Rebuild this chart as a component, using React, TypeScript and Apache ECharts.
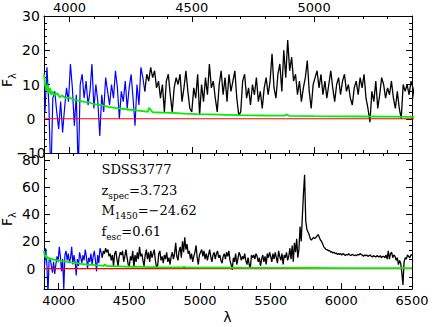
import React, { useEffect, useRef } from 'react';
import * as echarts from 'echarts';

// Spectrum sampling (wavelength in Angstrom)
const lamStart = 3900;
const lamStep = 8;
const blueEnd = 4308; // observed spectrum drawn in blue below this wavelength

// Flux values, one row per 200 A (3900-4092, 4100-4292, ...)
const flux = [
  2, 15, 4, -18, 6, 8, 2, -3, 5, -4, 3, 9, 5, 16, 9, -2, 7, -16, 10, 13, 6, 11, 4, 8, 16,
  3, 10, 5, -5, 7, 2, 12, 8, 4, 10, 6, 14, 9, 0, 8, 5, 11, 3, 9, 13, 6, -2, 10, 4, 15,
  12, 8, 13, 11, 15, 12, 14, 9, 11, 6, 10, 2, 11, 13, 7, 2, 9, 12, 10, 13, 5, 9, 14, 8, 3,
  2, 9, 6, 13, 1, 10, 5, 12, 7, 16, 9, 11, 6, 2, 10, 14, 7, 12, 5, 13, 8, 11, 14, 6, 1,
  2, 11, 13, 6, 9, 4, 10, 7, 12, 5, 8, 3, 9, 12, 7, 11, 19, 9, 6, 13, 16, 8, 20, 12, 23,
  14, 18, 11, 13, 7, 11, 5, 9, 12, 17, 8, 3, 10, 12, 14, 9, 13, 7, 11, 6, 10, 14, 9, 5, 10,
  12, 7, 11, 13, 8, 10, 6, 4, 9, 11, 7, 12, 9, 13, 6, 3, -1, 8, 5, 11, 3, 7, 12, 10, 6,
  9, 7, 11, 6, 3, 8, 3, 0, 10, 8, 10, 7, 11, 9, 5, 8, 2, 7, 10, 5, 9, 3, 11, 8, 12,
  9, 5, 11, 7, 12, 8, 4, 13, 9, 6, 11, 3, 10, 8, 12, 6, 9, 15, 7, 17, 5, 19, 12, 22, 8,
  14, 31, 20, 38, 55, 69, 35, 29, 27, 25, 22, 21, 22, 23, 22, 23, 24, 25, 23, 21, 20, 18, 16, 15, 14,
  14, 13, 13.5, 12, 12.5, 11.5, 12, 11, 11.5, 10.5, 11, 10.5, 11, 10, 11, 10.5, 9.5, 10.5, 10, 11, 10, 9.5, 10.5, 10, 9.5,
  10, 9.5, 10.5, 10, 11, 10.5, 10, 9, 10, 9.5, 10, 9, 9.5, 10, 9, 8.5, 9.5, 9, 8.5, 9.5, 9, 8.5, 9.5, 8, 9,
  9, 8, 10, 7, 13, 7, 11, 12, 8, 10, 9, 6, 8, 3, 6, 4, -3, -12, 5, 8, 7, 10, 9, 8, 10,
  10,
];

// Green (error / model) curve
const greenLam = [
  3896, 3900, 3905, 3910, 3915, 3920, 3925, 3930, 3940, 3950,
  3960, 3970, 3985, 4000, 4020, 4040, 4060, 4080, 4100, 4130,
  4160, 4200, 4240, 4280, 4300, 4320, 4325, 4340, 4380, 4420,
  4470, 4520, 4580, 4640, 4700, 4800, 4880, 4885, 4900, 5000,
  5100, 5200, 5300, 5400, 5600, 5800, 6000, 6200, 6500,
];
const greenFlux = [
  13, 10, 8.5, 10, 7.5, 9, 7, 8, 6.8, 7.5,
  6.3, 6.8, 6, 6.2, 5.5, 5.3, 4.9, 4.8, 4.3, 4.0,
  3.5, 3.0, 2.7, 2.4, 2.2, 2.0, 3.2, 1.9, 1.8, 1.7,
  1.5, 1.35, 1.25, 1.15, 1.05, 0.95, 0.9, 1.3, 0.85, 0.75,
  0.7, 0.65, 0.6, 0.55, 0.5, 0.45, 0.4, 0.35, 0.3,
];

// Axis ranges and ticks
const topXRange = [3896, 5400];
const botXRange = [3896, 6500];
const topYRange = [-10, 30];
const botYRange = [-15, 85];
const topXMajor = [4000, 4500, 5000];
const topXMinor = [4100, 4200, 4300, 4400, 4600, 4700, 4800, 4900, 5100, 5200, 5300];
const botXMajor = [4000, 4500, 5000, 5500, 6000, 6500];
const botXMinor = [
  4100, 4200, 4300, 4400, 4600, 4700, 4800, 4900, 5100, 5200, 5300, 5400,
  5600, 5700, 5800, 5900, 6100, 6200, 6300, 6400,
];
const botYMajor = [0, 20, 40, 60, 80];
const botYMinor = [-13.33, -6.67, 6.67, 13.33, 26.67, 33.33, 46.67, 53.33, 66.67, 73.33];

// Annotation texts
const objectName = 'SDSS3777';
const zSpec = '3.723';
const m1450 = '\u221224.62';
const fEsc = '0.61';

const SANS = 'DejaVu Sans';
const SERIF = 'DejaVu Serif';

const fmt = (v: number) => String(v).replace('-', '\u2212');

function xAx(gridIndex: number, position: string, range: number[], ticks: number[], len: number, labels: boolean, showLine: boolean) {
  return {
    type: 'value', gridIndex, position, min: range[0], max: range[1],
    axisLine: { show: showLine, onZero: false, lineStyle: { color: '#000', width: 1 } },
    axisTick: { show: true, inside: true, length: len, customValues: ticks, lineStyle: { color: '#000', width: 1 } },
    axisLabel: labels
      ? { show: true, customValues: ticks, color: '#000', fontFamily: SANS, fontSize: 13, margin: position === 'top' ? 2 : 5, formatter: fmt }
      : { show: false },
    splitLine: { show: false },
    minorTick: { show: false },
  };
}

function yAxCustom(gridIndex: number, position: string, range: number[], ticks: number[], len: number, labels: boolean, showLine: boolean) {
  return {
    type: 'value', gridIndex, position, min: range[0], max: range[1],
    axisLine: { show: showLine, onZero: false, lineStyle: { color: '#000', width: 1 } },
    axisTick: { show: true, inside: true, length: len, customValues: ticks, lineStyle: { color: '#000', width: 1 } },
    axisLabel: labels
      ? { show: true, customValues: ticks, color: '#000', fontFamily: SANS, fontSize: 14, margin: 13, align: 'center', formatter: fmt }
      : { show: false },
    splitLine: { show: false },
    minorTick: { show: false },
  };
}

function yAxTop(position: string, labels: boolean) {
  return {
    type: 'value', gridIndex: 0, position, min: topYRange[0], max: topYRange[1], interval: 10,
    axisLine: { show: true, onZero: false, lineStyle: { color: '#000', width: 1 } },
    axisTick: { show: true, inside: true, length: 6, lineStyle: { color: '#000', width: 1 } },
    minorTick: { show: true, splitNumber: 5, length: 3, lineStyle: { color: '#000', width: 1 } },
    axisLabel: labels
      ? { show: true, color: '#000', fontFamily: SANS, fontSize: 14, margin: 13, align: 'center', formatter: fmt, showMinLabel: true, showMaxLabel: true }
      : { show: false },
    splitLine: { show: false },
  };
}

export default function App() {
  const ref = useRef<HTMLDivElement>(null);

  useEffect(() => {
    if (!ref.current) return;
    const chart = echarts.init(ref.current, undefined, { renderer: 'svg' });

    const pts = flux.map((f, i) => [lamStart + i * lamStep, f]);
    const blue = pts.filter((p) => p[0] <= blueEnd);
    const black = pts.filter((p) => p[0] >= blueEnd);
    const green = greenLam.map((l, i) => [l, greenFlux[i]]);
    const zeroLine = [[botXRange[0], 0], [botXRange[1], 0]];

    const line = (data: number[][], color: string, width: number, xi: number, yi: number, z: number) => ({
      type: 'line', data, xAxisIndex: xi, yAxisIndex: yi, showSymbol: false, symbol: 'none',
      lineStyle: { color, width }, itemStyle: { color }, clip: true, z, silent: true,
    });

    const LH = 20.6;
    const main = { fontSize: 13, fontFamily: SERIF, color: '#000', lineHeight: LH, verticalAlign: 'middle' };
    const sub = { fontSize: 9, fontFamily: SERIF, color: '#000', lineHeight: 9, padding: [LH / 2 + 1, 0, LH / 2 - 10, 0], verticalAlign: 'middle' };
    const ylabMain = { fontSize: 14, fontFamily: SANS, color: '#000', lineHeight: 14, verticalAlign: 'middle' };
    const ylabSub = { fontSize: 10, fontFamily: SANS, color: '#000', lineHeight: 10, verticalAlign: 'middle', padding: [11, 0, 0, 0] };

    const annot = [
      `{m|${objectName}}`,
      `{m|z}{s|spec}{m|=${zSpec}}`,
      `{m|M}{s|1450}{m|=${m1450}}`,
      `{m|f}{s|esc}{m|=${fEsc}}`,
    ].join('\n');

    chart.setOption({
      animation: false,
      backgroundColor: '#fff',
      textStyle: { fontFamily: SANS },
      grid: [
        { left: 44, top: 16, width: 368, height: 137, containLabel: false, outerBoundsMode: 'none' },
        { left: 44, top: 153, width: 368, height: 136, containLabel: false, outerBoundsMode: 'none' },
      ],
      xAxis: [
        xAx(0, 'top', topXRange, topXMajor, 6, true, true),
        xAx(0, 'bottom', topXRange, topXMajor, 6, false, true),
        xAx(0, 'top', topXRange, topXMinor, 3, false, false),
        xAx(0, 'bottom', topXRange, topXMinor, 3, false, false),
        xAx(1, 'bottom', botXRange, botXMajor, 6, true, true),
        xAx(1, 'top', botXRange, botXMajor, 6, false, true),
        xAx(1, 'bottom', botXRange, botXMinor, 3, false, false),
        xAx(1, 'top', botXRange, botXMinor, 3, false, false),
      ],
      yAxis: [
        yAxTop('left', true),
        yAxTop('right', false),
        yAxCustom(1, 'left', botYRange, botYMajor, 6, true, true),
        yAxCustom(1, 'right', botYRange, botYMajor, 6, false, true),
        yAxCustom(1, 'left', botYRange, botYMinor, 3, false, false),
        yAxCustom(1, 'right', botYRange, botYMinor, 3, false, false),
      ],
      series: [
        line(blue, '#0000ff', 1.2, 0, 0, 2),
        line(black, '#000000', 1.3, 0, 0, 2),
        line(zeroLine, '#ff0000', 1.2, 0, 0, 3),
        line(green, '#00ee00', 1.8, 0, 0, 4),
        line(blue, '#0000ff', 1.2, 4, 2, 2),
        line(black, '#000000', 1.3, 4, 2, 2),
        line(zeroLine, '#ff0000', 1.2, 4, 2, 3),
        line(green, '#00ee00', 1.8, 4, 2, 4),
      ],
      graphic: [
        { type: 'text', x: 101.5, y: 159.4, style: { text: annot, rich: { m: main, s: sub }, align: 'left', verticalAlign: 'top' } },
        { type: 'text', x: 227.5, y: 317, style: { text: '\u03bb', fontSize: 14, fontFamily: SANS, fill: '#000', align: 'center', verticalAlign: 'middle' } },
        { type: 'text', x: 7, y: 80, rotation: Math.PI / 2, style: { text: '{f|F}{s|\u03bb}', rich: { f: ylabMain, s: ylabSub }, align: 'center', verticalAlign: 'middle' } },
        { type: 'text', x: 7, y: 219, rotation: Math.PI / 2, style: { text: '{f|F}{s|\u03bb}', rich: { f: ylabMain, s: ylabSub }, align: 'center', verticalAlign: 'middle' } },
      ],
    });

    return () => chart.dispose();
  }, []);

  return <div ref={ref} style={{ position: 'fixed', left: 0, top: 0, width: 438, height: 327, background: '#fff' }} />;
}
